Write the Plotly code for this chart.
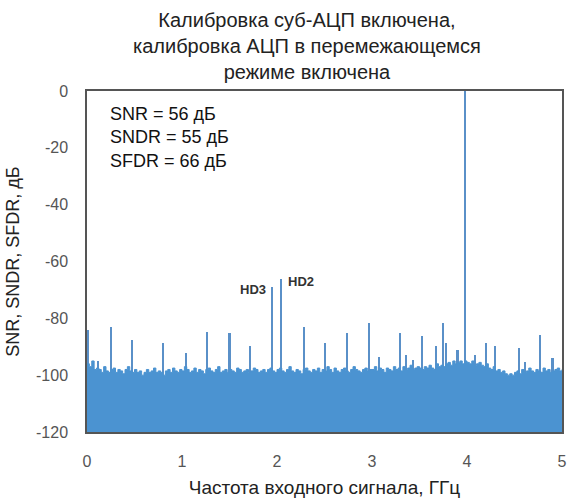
import numpy as np
import plotly.graph_objects as go

# Noise floor of the output spectrum, one value every 25 MHz from 0 to 5 GHz (dB)
noise_step_ghz = 0.025
noise_db = [
    -96, -97, -95, -98, -97.5, -98, -99, -97, -98.5, -99, -98, -97.5, -99, -98, -98.5, -99.5, -98, -97, -98.5, -99,
    -98, -99, -98.5, -100, -99, -98, -99, -98.5, -97.5, -99, -98.5, -99, -100, -98.5, -98, -99, -97.5, -98.5, -99, -98,
    -98.5, -97, -98, -99, -98.5, -97.5, -99, -98, -98.5, -99.5, -98, -97.5, -98.5, -99, -98, -97, -99, -98.5, -98, -99,
    -98, -98.5, -99, -97.5, -98, -99, -98.5, -98, -99, -98.5, -97.5, -98, -99, -98.5, -98, -99, -98, -97.5, -98.5, -99,
    -98, -97.5, -98.5, -99, -98, -97, -98.5, -99, -98, -98.5, -99.5, -98, -97.5, -98.5, -99, -98, -98.5, -97.5, -99, -98,
    -98.5, -97, -98, -99, -97.5, -98.5, -99, -98, -97.5, -98.5, -99, -98, -97, -98, -98.5, -99, -98, -97.5, -98.5, -98,
    -98, -97, -98.5, -97.5, -98, -99, -97.5, -98, -98.5, -97, -98, -97.5, -98.5, -97, -98, -97.5, -96.5, -98, -97.5, -97,
    -97.5, -98, -97, -97.5, -96.5, -97.5, -98, -96, -97, -96.5, -97, -96, -95.5, -96.5, -95, -96, -95.5, -95, -96, -95,
    -95.5, -96, -95, -96.5, -96, -95.5, -96.5, -97, -96, -97.5, -98, -97, -98.5, -98, -99, -98.5, -99.5, -100, -99.5, -100,
    -99, -98.5, -99.5, -98, -99, -98.5, -97.5, -98.5, -99, -98, -98.5, -99, -97.5, -98.5, -98, -99, -98.5, -98, -97.5, -98.5,
    -98,
]
noise_freq_ghz = [i * noise_step_ghz for i in range(len(noise_db))]

# Discrete tones: fundamental, harmonics and interleaving spurs (GHz, dB)
spur_freq_ghz = [0.01, 0.115, 0.25, 0.47, 0.80, 1.04, 1.26, 1.50, 1.72, 1.95, 2.045, 2.28,
                 2.51, 2.74, 2.97, 3.07, 3.29, 3.36, 3.43, 3.53, 3.67, 3.75, 3.78, 3.90,
                 3.98, 4.08, 4.20, 4.29, 4.55, 4.61, 4.77, 4.90]
spur_db = [-84, -95, -83, -87.5, -88.7, -92.2, -84.8, -85.2, -89.9, -69, -66, -83.2,
           -88.7, -85, -81.6, -93.6, -85.2, -92.8, -94.6, -86.1, -89.9, -81.6, -88.7, -91.3,
           0, -92.8, -88.7, -89.9, -90.5, -95.2, -85.8, -94]

floor_db = -120

title_lines = ["Калибровка суб-АЦП включена,",
               "калибровка АЦП в перемежающемся",
               "режиме включена"]
stats_lines = ["SNR = 56 дБ", "SNDR = 55 дБ", "SFDR = 66 дБ"]
x_ticks = [0, 1, 2, 3, 4, 5]
y_ticks = [0, -20, -40, -60, -80, -100, -120]
y_tick_text = ["0", "-20", "-40", "-60", "-80", "-100", "-120"]

fill_blue = "#4b93d1"
spur_blue = "#5a90c8"
font_family = "Liberation Sans, Arial, sans-serif"

fig = go.Figure()

# baseline for the noise fill
fig.add_trace(go.Scatter(
    x=noise_freq_ghz, y=[floor_db] * len(noise_freq_ghz),
    mode="lines", line=dict(width=0, color=fill_blue),
    hoverinfo="skip", showlegend=False,
))
fig.add_trace(go.Scatter(
    x=noise_freq_ghz, y=noise_db, mode="lines",
    line=dict(width=1, color=fill_blue, shape="hv"),
    fill="tonexty", fillcolor=fill_blue, showlegend=False,
))

# tones drawn as thin bars rising from the floor
fig.add_trace(go.Bar(
    x=spur_freq_ghz, y=np.array(spur_db) - floor_db, base=floor_db,
    width=0.022, marker=dict(color=spur_blue, line=dict(width=0)),
    showlegend=False,
))

# chart title, three centred lines above the frame
fig.add_annotation(
    x=0.4625, xref="paper", y=1.245, yref="paper", xanchor="center", yanchor="top",
    text="<br>".join(title_lines), align="center", showarrow=False,
    font=dict(family=font_family, size=20, color="#222"),
)

fig.add_annotation(
    x=0.044, xref="paper", y=-4, yref="y", xanchor="left", yanchor="top",
    text="<br>".join(stats_lines), align="left", showarrow=False,
    font=dict(family=font_family, size=18, color="#111"),
)

hd3_i = spur_freq_ghz.index(1.95)
hd2_i = spur_freq_ghz.index(2.045)
fig.add_annotation(
    x=spur_freq_ghz[hd3_i] - 0.04, y=spur_db[hd3_i] - 1, xanchor="right", yanchor="middle",
    text="<b>HD3</b>", showarrow=False,
    font=dict(family=font_family, size=13, color="#333"),
)
fig.add_annotation(
    x=spur_freq_ghz[hd2_i] + 0.05, y=spur_db[hd2_i] - 1, xanchor="left", yanchor="middle",
    text="<b>HD2</b>", showarrow=False,
    font=dict(family=font_family, size=13, color="#333"),
)

fig.update_layout(
    width=570, height=501,
    margin=dict(l=87, r=3, t=91, b=69),
    paper_bgcolor="white", plot_bgcolor="white",
    bargap=0,
    xaxis=dict(
        range=[0, 5], tickvals=x_ticks, showgrid=False, zeroline=False,
        showline=True, mirror=True, linecolor="#555", linewidth=1.5,
        ticks="", ticklabelstandoff=14,
        tickfont=dict(family=font_family, size=16, color="#555"),
        title=dict(text="Частота входного сигнала, ГГц", standoff=12,
                   font=dict(family=font_family, size=19, color="#222")),
    ),
    yaxis=dict(
        range=[-120, 0], tickvals=y_ticks, ticktext=y_tick_text,
        showgrid=False, zeroline=False,
        showline=True, mirror=True, linecolor="#555", linewidth=1.5,
        ticks="", ticklabelstandoff=14,
        tickfont=dict(family=font_family, size=16, color="#555"),
        title=dict(text="SNR, SNDR, SFDR, дБ", standoff=12,
                   font=dict(family=font_family, size=18, color="#222")),
    ),
)

fig.write_html("out.html")
